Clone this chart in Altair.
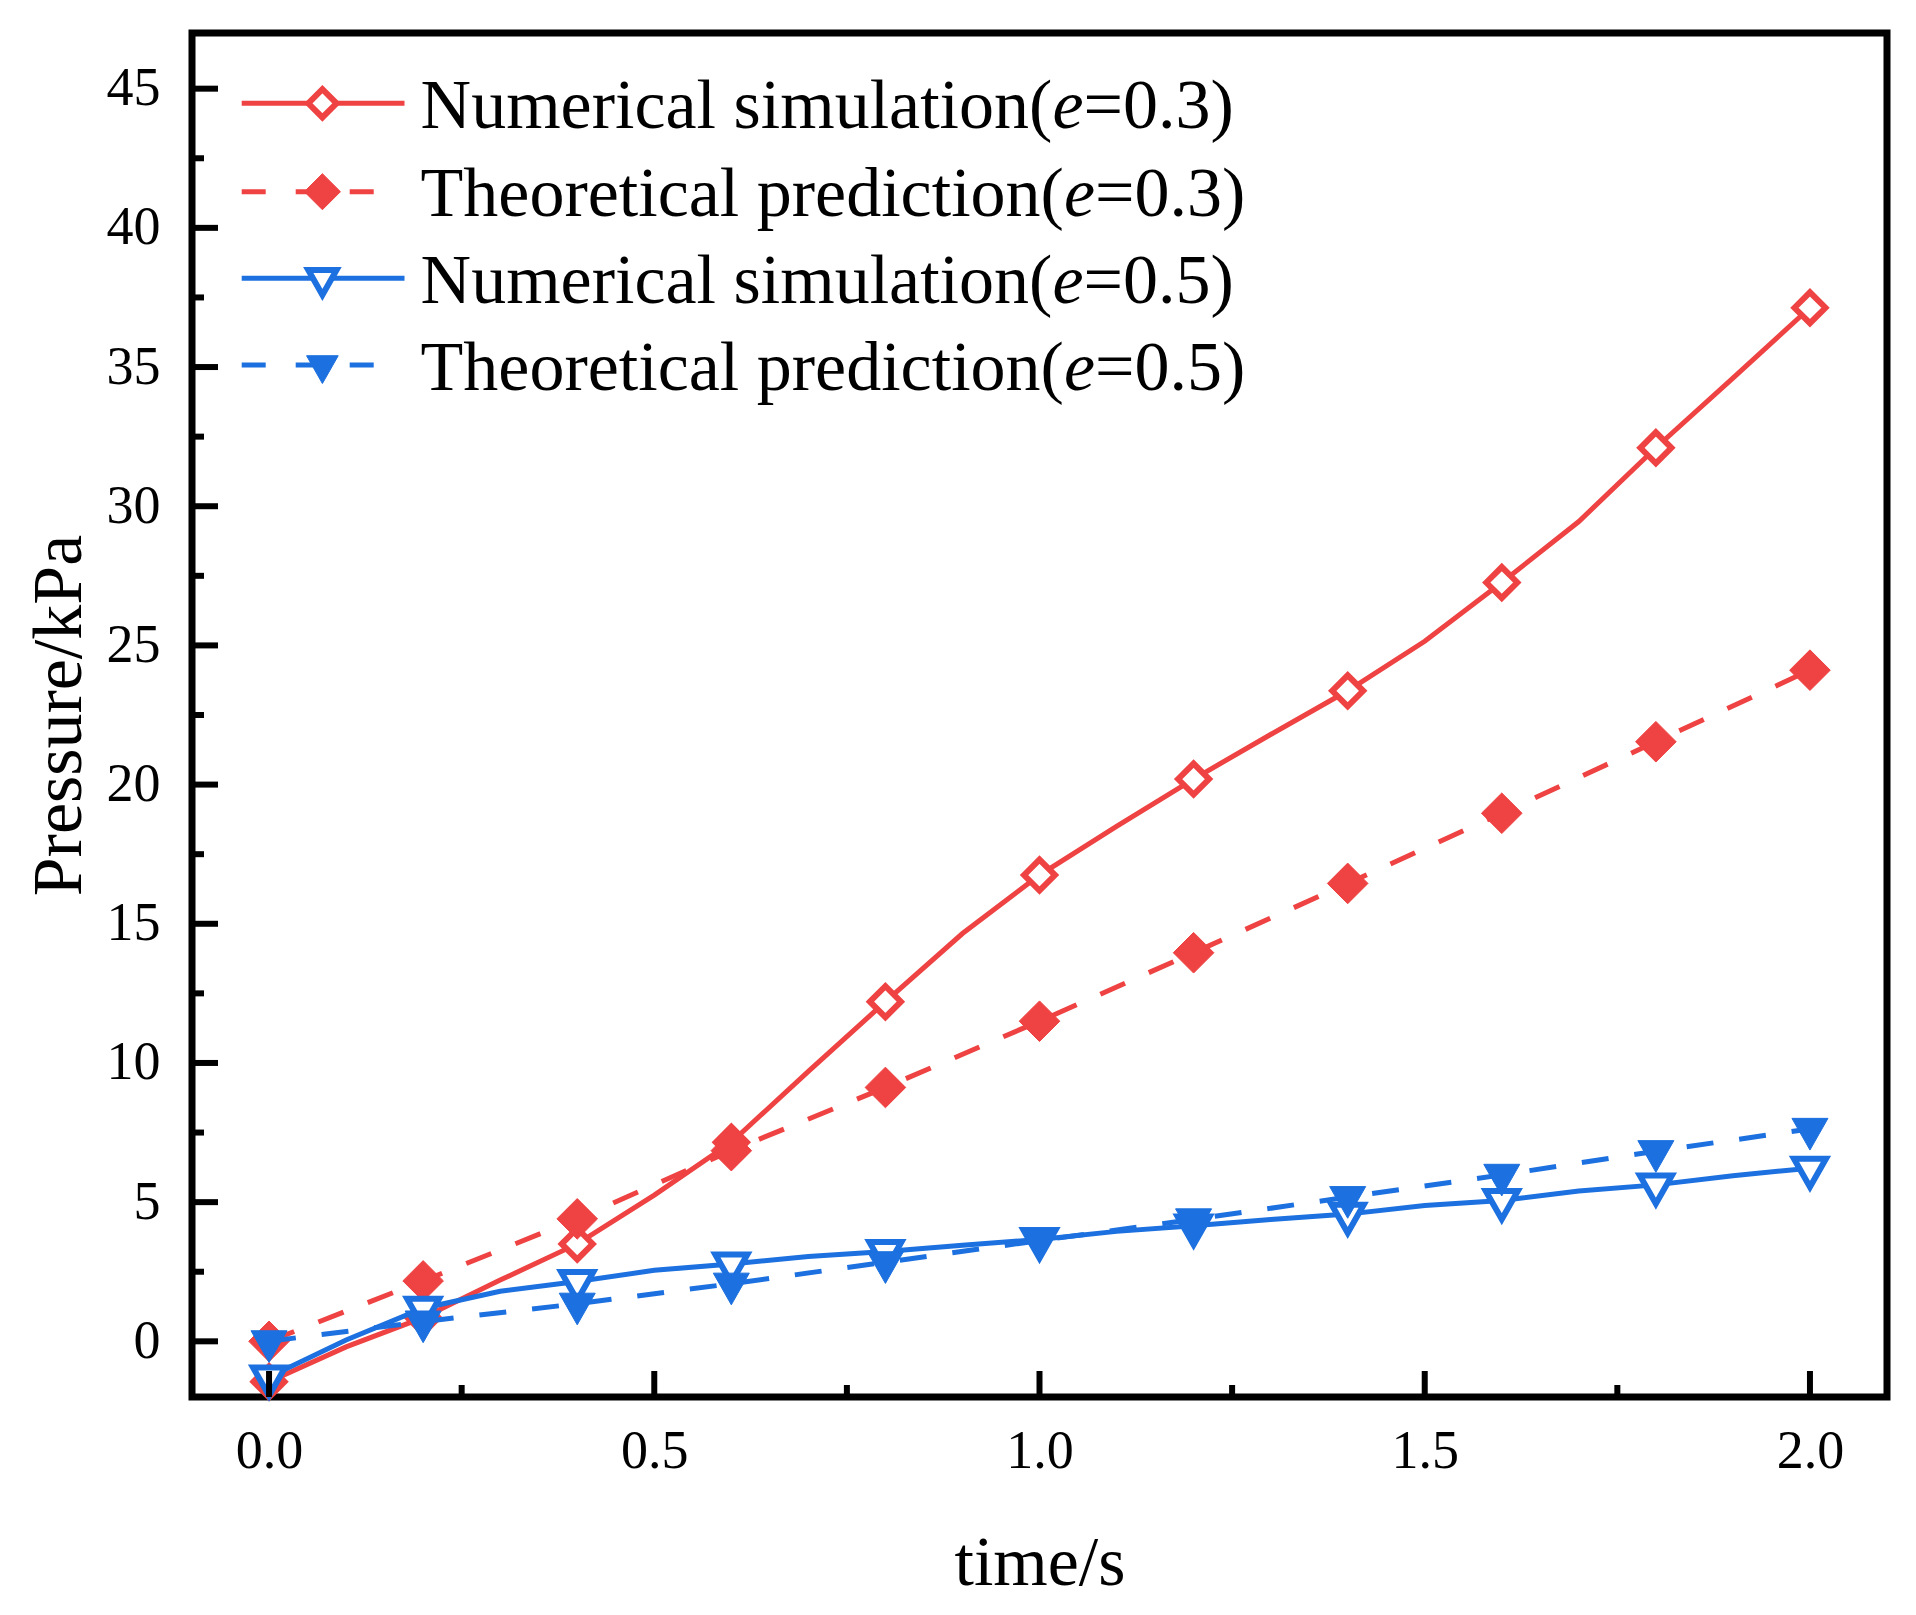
import altair as alt
import pandas as pd

# ---------------- data ----------------
time_sim = [0.0, 0.1, 0.2, 0.3, 0.4, 0.5, 0.6, 0.7, 0.8, 0.9, 1.0,
            1.1, 1.2, 1.3, 1.4, 1.5, 1.6, 1.7, 1.8, 1.9, 2.0]
sim_e03 = [-1.45, -0.2, 0.85, 2.2, 3.5, 5.25, 7.15, 9.7, 12.2, 14.65, 16.75,
           18.5, 20.2, 21.8, 23.37, 25.15, 27.26, 29.45, 32.1, 34.6, 37.13]
sim_e05 = [-1.28, 0.05, 1.19, 1.8, 2.15, 2.55, 2.78, 3.05, 3.23, 3.45, 3.66,
           3.95, 4.15, 4.38, 4.57, 4.88, 5.06, 5.4, 5.62, 5.95, 6.22]

time_theory = [0.0, 0.2, 0.4, 0.6, 0.8, 1.0, 1.2, 1.4, 1.6, 1.8, 2.0]
theory_e03 = [0.0, 2.17, 4.4, 6.85, 9.12, 11.5, 13.96, 16.45, 18.97, 21.54, 24.11]
theory_e05 = [0.0, 0.71, 1.35, 2.07, 2.84, 3.62, 4.38, 5.18, 5.98, 6.83, 7.63]

x_major = [0.0, 0.5, 1.0, 1.5, 2.0]
x_minor = [0.25, 0.75, 1.25, 1.75]
y_major = [0, 5, 10, 15, 20, 25, 30, 35, 40, 45]
y_minor = [2.5, 7.5, 12.5, 17.5, 22.5, 27.5, 32.5, 37.5, 42.5]

labels = ["Numerical simulation(", "Theoretical prediction("]

# ---------------- styling ----------------
RED = "#EF4242"
BLUE = "#1C70DF"
FONT = "Liberation Serif"
W, H = 1695, 1364
DASH = [27, 26]
TRI = "M-1,-0.587L1,-0.587L0,1.173Z"

x_scale = alt.Scale(domain=[-0.1, 2.1], nice=False, zero=False)
y_scale = alt.Scale(domain=[-2, 47], nice=False, zero=False)

x_axis = alt.Axis(values=x_major, format=".1f", title="time/s", ticks=False, tickSize=0,
                  domain=False, grid=False, labelFont=FONT, labelFontSize=54,
                  labelPadding=27, labelColor="black", labelOverlap=False,
                  titleFont=FONT, titleFontSize=70, titleFontWeight="normal",
                  titleColor="black", titleX=W / 2, titleY=187,
                  titleBaseline="alphabetic", titleAlign="center")
y_axis = alt.Axis(values=y_major, format="d", title="Pressure/kPa", ticks=False, tickSize=0,
                  domain=False, grid=False, labelFont=FONT, labelFontSize=54,
                  labelPadding=32, labelColor="black", labelOverlap=False,
                  titleFont=FONT, titleFontSize=70, titleFontWeight="normal",
                  titleColor="black", titleX=-112, titleY=H / 2, titleAngle=270,
                  titleBaseline="alphabetic", titleAlign="center")


def frame(t, p, every):
    return pd.DataFrame({"t": t, "p": p,
                         "m": [1 if i % every == 0 else 0 for i in range(len(t))]})


def series(df, color, dashed, shape, open_marker, size):
    X = alt.X("t:Q", scale=x_scale, axis=x_axis)
    Y = alt.Y("p:Q", scale=y_scale, axis=y_axis)
    line_kw = dict(color=color, strokeWidth=5)
    if dashed:
        line_kw["strokeDash"] = DASH
    line = alt.Chart(df).mark_line(**line_kw).encode(x=X, y=Y)
    if open_marker:
        pt = alt.Chart(df).transform_filter(alt.datum.m == 1).mark_point(
            shape=shape, size=size, filled=True, fill="white", fillOpacity=1,
            stroke=color, strokeWidth=6, opacity=1).encode(x=X, y=Y)
    else:
        pt = alt.Chart(df).transform_filter(alt.datum.m == 1).mark_point(
            shape=shape, size=size, filled=True, fill=color, fillOpacity=1,
            stroke=color, strokeWidth=1, opacity=1).encode(x=X, y=Y)
    return [line, pt]


layers = []
layers += series(frame(time_sim, sim_e03, 2), RED, False, "diamond", True, 960)
layers += series(frame(time_theory, theory_e03, 1), RED, True, "diamond", False, 1650)
layers += series(frame(time_sim, sim_e05, 2), BLUE, False, TRI, True, 1024)
layers += series(frame(time_theory, theory_e05, 1), BLUE, True, TRI, False, 1296)

# inward ticks
def yticks(vals, length):
    return alt.Chart(pd.DataFrame({"p": vals})).mark_rule(color="black", strokeWidth=6).encode(
        y=alt.Y("p:Q", scale=y_scale, axis=y_axis), x=alt.value(0), x2=alt.value(length))


def xticks(vals, length):
    return alt.Chart(pd.DataFrame({"t": vals})).mark_rule(color="black", strokeWidth=6).encode(
        x=alt.X("t:Q", scale=x_scale, axis=x_axis), y=alt.value(H), y2=alt.value(H - length))


layers += [yticks(y_major, 26), yticks(y_minor, 12), xticks(x_major, 26), xticks(x_minor, 12)]

# legend (drawn in pixel space)
one = alt.Data(values=[{"a": 1}])
# Times/Liberation Serif advance widths (em) for label offsets
w_num = 9.027
w_theo = 9.192


def legend_entry(yc, color, dashed, shape, open_marker, size, lbl, lbl_w, eq):
    out = []
    if dashed:
        out.append(alt.Chart(one).mark_rule(color=color, strokeWidth=5, strokeDash=[24, 30]).encode(
            x=alt.value(49.7), x2=alt.value(181.7), y=alt.value(yc)))
    else:
        out.append(alt.Chart(one).mark_rule(color=color, strokeWidth=5).encode(
            x=alt.value(49.7), x2=alt.value(212.5), y=alt.value(yc)))
    if open_marker:
        out.append(alt.Chart(one).mark_point(shape=shape, size=size, filled=True, fill="white",
                                             fillOpacity=1, stroke=color, strokeWidth=6,
                                             opacity=1).encode(x=alt.value(130.4), y=alt.value(yc)))
    else:
        out.append(alt.Chart(one).mark_point(shape=shape, size=size, filled=True, fill=color,
                                             fillOpacity=1, stroke=color, strokeWidth=1,
                                             opacity=1).encode(x=alt.value(130.4), y=alt.value(yc)))
    ty = yc + 24.5
    x0 = 228.6
    xe = x0 + lbl_w * 70
    xr = xe + 0.444 * 70
    for txt, xx, style in [(lbl, x0, "normal"), ("e", xe, "italic"), (eq, xr, "normal")]:
        out.append(alt.Chart(one).mark_text(font=FONT, fontSize=70, fontStyle=style, align="left",
                                            baseline="alphabetic", color="black").encode(
            x=alt.value(xx), y=alt.value(ty), text=alt.value(txt)))
    return out


layers += legend_entry(70.3, RED, False, "diamond", True, 800, labels[0], w_num, "=0.3)")
layers += legend_entry(158.7, RED, True, "diamond", False, 1300, labels[1], w_theo, "=0.3)")
layers += legend_entry(245.3, BLUE, False, TRI, True, 800, labels[0], w_num, "=0.5)")
layers += legend_entry(332.0, BLUE, True, TRI, False, 1000, labels[1], w_theo, "=0.5)")

chart = alt.layer(*layers).properties(
    width=W, height=H,
    autosize=alt.AutoSizeParams(type="none"),
    padding={"left": 184, "top": 25, "right": 21, "bottom": 210},
    background="white",
).configure_view(stroke="black", strokeWidth=7)

chart.save("out.html", embed_options={"renderer": "svg", "actions": False})
